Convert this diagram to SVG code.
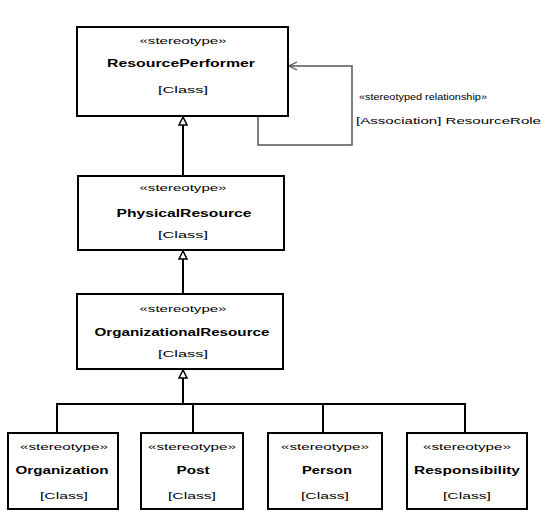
<svg xmlns="http://www.w3.org/2000/svg" width="553" height="522" viewBox="0 0 553 522">
<style>
.box{fill:#fff;stroke:#000;stroke-width:2}
.st{font-family:"Liberation Sans",Arial,sans-serif;font-size:9px;text-anchor:middle;fill:#000}
.nm{font-family:"Liberation Sans",Arial,sans-serif;font-size:10px;font-weight:bold;text-anchor:middle;fill:#000}
.lb{font-family:"Liberation Sans",Arial,sans-serif;font-size:9px;fill:#000}
.ln{fill:none;stroke:#000;stroke-width:2}
.lp{fill:none;stroke:#555;stroke-width:1.5}
.tri{fill:#fff;stroke:#000;stroke-width:1.5}
</style>
<defs>
<marker id="open" markerWidth="10" markerHeight="10" refX="9" refY="5" orient="auto" markerUnits="userSpaceOnUse">
<path d="M1,1 L9,5 L1,9" fill="none" stroke="#555" stroke-width="1.3"/>
</marker>
</defs>
<g id="connectors">
<line class="ln" x1="183" y1="125" x2="183" y2="176"/>
<polygon class="tri" points="183,117 179,125 187,125"/>
<line class="ln" x1="183" y1="259" x2="183" y2="294"/>
<polygon class="tri" points="183,251 179,259 187,259"/>
<line class="ln" x1="183" y1="378" x2="183" y2="404"/>
<polygon class="tri" points="183,370 179,378 187,378"/>
<polyline class="ln" points="57,433 57,404 465,404 465,433"/>
<line class="ln" x1="193" y1="404" x2="193" y2="433"/>
<line class="ln" x1="323" y1="404" x2="323" y2="433"/>
<polyline class="lp" points="258,116 258,145 352,145 352,66 289,66" marker-end="url(#open)"/>
<text class="lb" x="359" y="100" textLength="128" lengthAdjust="spacingAndGlyphs">«stereotyped relationship»</text>
<text class="lb" x="356" y="124" textLength="185" lengthAdjust="spacingAndGlyphs">[Association] ResourceRole</text>
</g>
<g id="ResourcePerformer">
<rect class="box" x="77" y="27" width="211" height="89"/>
<text class="st" x="183" y="44" textLength="87" lengthAdjust="spacingAndGlyphs">«stereotype»</text>
<text class="nm" x="181" y="67" textLength="148" lengthAdjust="spacingAndGlyphs">ResourcePerformer</text>
<text class="st" x="183" y="93" textLength="50" lengthAdjust="spacingAndGlyphs">[Class]</text>
</g>
<g id="PhysicalResource">
<rect class="box" x="78" y="176" width="206" height="74"/>
<text class="st" x="183" y="191" textLength="87" lengthAdjust="spacingAndGlyphs">«stereotype»</text>
<text class="nm" x="184" y="217" textLength="135" lengthAdjust="spacingAndGlyphs">PhysicalResource</text>
<text class="st" x="183" y="238" textLength="50" lengthAdjust="spacingAndGlyphs">[Class]</text>
</g>
<g id="OrganizationalResource">
<rect class="box" x="77" y="294" width="206" height="75"/>
<text class="st" x="183" y="312" textLength="87" lengthAdjust="spacingAndGlyphs">«stereotype»</text>
<text class="nm" x="182" y="336" textLength="175" lengthAdjust="spacingAndGlyphs">OrganizationalResource</text>
<text class="st" x="183" y="357" textLength="50" lengthAdjust="spacingAndGlyphs">[Class]</text>
</g>
<g id="Organization">
<rect class="box" x="8" y="433" width="110" height="76"/>
<text class="st" x="64" y="450" textLength="88" lengthAdjust="spacingAndGlyphs">«stereotype»</text>
<text class="nm" x="62" y="474" textLength="93" lengthAdjust="spacingAndGlyphs">Organization</text>
<text class="st" x="64" y="499" textLength="48" lengthAdjust="spacingAndGlyphs">[Class]</text>
</g>
<g id="Post">
<rect class="box" x="141" y="433" width="102" height="76"/>
<text class="st" x="192" y="450" textLength="88" lengthAdjust="spacingAndGlyphs">«stereotype»</text>
<text class="nm" x="193" y="474" textLength="33" lengthAdjust="spacingAndGlyphs">Post</text>
<text class="st" x="192" y="499" textLength="48" lengthAdjust="spacingAndGlyphs">[Class]</text>
</g>
<g id="Person">
<rect class="box" x="268" y="433" width="114" height="76"/>
<text class="st" x="325" y="450" textLength="88" lengthAdjust="spacingAndGlyphs">«stereotype»</text>
<text class="nm" x="327" y="474" textLength="50" lengthAdjust="spacingAndGlyphs">Person</text>
<text class="st" x="325" y="499" textLength="48" lengthAdjust="spacingAndGlyphs">[Class]</text>
</g>
<g id="Responsibility">
<rect class="box" x="407" y="433" width="120" height="76"/>
<text class="st" x="467" y="450" textLength="88" lengthAdjust="spacingAndGlyphs">«stereotype»</text>
<text class="nm" x="467" y="474" textLength="106" lengthAdjust="spacingAndGlyphs">Responsibility</text>
<text class="st" x="467" y="499" textLength="48" lengthAdjust="spacingAndGlyphs">[Class]</text>
</g>
</svg>
